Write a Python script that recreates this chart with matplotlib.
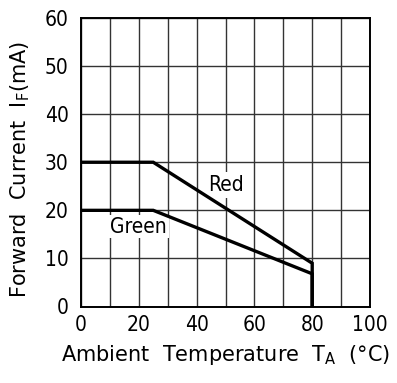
import matplotlib
matplotlib.use("Agg")
import matplotlib.pyplot as plt

# derating curves
red_temp = [0, 25, 80, 80]
red_current = [30, 30, 9, 0]
green_temp = [0, 25, 80, 80]
green_current = [20, 20, 6.8, 0]

x_ticks = [0, 20, 40, 60, 80, 100]
y_ticks = [0, 10, 20, 30, 40, 50, 60]

narrow = ["DejaVu Sans"]
wide = ["DejaVu Sans"]

fig = plt.figure(figsize=(3.97, 3.83), dpi=100)
ax = fig.add_axes([81 / 397, 1 - 306.5 / 383, 289 / 397, 288.5 / 383])

ax.set_xlim(0, 100)
ax.set_ylim(0, 60)
ax.set_yticks(y_ticks)
ax.set_xticks(x_ticks)
ax.set_xticks(range(10, 100, 20), minor=True)
ax.grid(True, color="#333333", linewidth=1.0)
ax.grid(True, which="minor", axis="x", color="#333333", linewidth=1.0)
ax.set_axisbelow(True)
ax.tick_params(which="both", length=0, colors="black")
ax.tick_params(axis="x", pad=6)
ax.tick_params(axis="y", pad=9)
ax.set_xticklabels([str(t) for t in x_ticks], family=narrow, fontstretch="condensed", fontsize=15)
ax.set_yticklabels([str(t) for t in y_ticks], family=narrow, fontstretch="condensed", fontsize=15)
for sp in ax.spines.values():
    sp.set_linewidth(1.4)

ax.plot(red_temp, red_current, color="black", linewidth=2.4, solid_joinstyle="miter", zorder=3)
ax.plot(green_temp, green_current, color="black", linewidth=2.4, solid_joinstyle="miter", zorder=3)

ax.text(50, 25.3, "Red", family=narrow, fontstretch="condensed", fontsize=15,
        ha="center", va="center", zorder=2,
        bbox=dict(facecolor="white", edgecolor="none", pad=2))
ax.text(20, 16.6, "Green", family=narrow, fontstretch="condensed", fontsize=15,
        ha="center", va="center", zorder=2,
        bbox=dict(facecolor="white", edgecolor="none", pad=1))

ax.set_xlabel(r"Ambient  Temperature  T$_\mathregular{A}$  (°C)", family=wide,
              fontsize=15, labelpad=6)
ax.set_ylabel(r"Forward  Current  I$_\mathregular{F}$(mA)", family=wide,
              fontsize=15)
ax.yaxis.set_label_coords(-0.17, 0.475)

fig.savefig("out.png", dpi=100)
